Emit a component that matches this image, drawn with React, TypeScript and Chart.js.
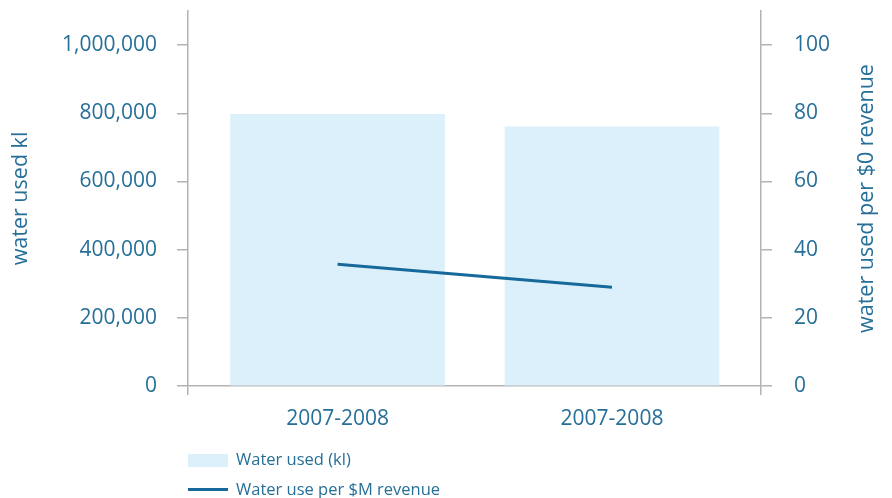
import React, { useEffect, useRef } from 'react';
import { Chart, registerables } from 'chart.js';

Chart.register(...registerables);

// ---- data ----
const categories: string[] = ['2007-2008', '2007-2008'];
const waterUsedKl: number[] = [797000, 760000];
const waterPerRevenue: number[] = [35.7, 29.0];
const seriesNames: string[] = ['Water used (kl)', 'Water use per $M revenue'];
const leftTitle = 'water used kl';
const rightTitle = 'water used per $0 revenue';
const leftTickValues: number[] = [0, 200000, 400000, 600000, 800000, 1000000];
const rightTickValues: number[] = [0, 20, 40, 60, 80, 100];
const leftAxisMax = 1100000;
const rightAxisMax = 110;

// ---- style ----
const W = 892;
const H = 498;
const TEXT = '#266f98';
const AXIS = '#b3b3b3';
const BAR = '#dbf0fb';
const LINE = '#16699a';
const FONT = '"Open Sans", "Noto Sans", sans-serif';

const fmt = new Intl.NumberFormat('en-US');

const titlePlugin = {
  id: 'axisTitles',
  afterDraw(chart: any) {
    const { ctx, chartArea } = chart;
    const cy = (chartArea.top + chartArea.bottom) / 2;
    ctx.save();
    ctx.fillStyle = TEXT;
    ctx.font = `21.5px ${FONT}`;
    ctx.textAlign = 'center';
    ctx.textBaseline = 'alphabetic';
    const items: [number, string][] = [
      [27, leftTitle],
      [chart.width - 19, rightTitle],
    ];
    for (const [x, t] of items) {
      ctx.save();
      ctx.translate(x, cy);
      ctx.rotate(-Math.PI / 2);
      ctx.fillText(t, 0, 0);
      ctx.restore();
    }
    ctx.restore();
  },
};

export default function App() {
  const ref = useRef<HTMLCanvasElement | null>(null);

  useEffect(() => {
    if (!ref.current) return;
    const tickFont = { family: FONT, size: 21 };
    const chart = new Chart(ref.current, {
      type: 'bar',
      data: {
        datasets: [
          {
            type: 'line',
            label: seriesNames[1],
            data: waterPerRevenue.map((v, i) => ({ x: i, y: v })),
            yAxisID: 'y1',
            borderColor: LINE,
            backgroundColor: LINE,
            borderWidth: 3,
            pointRadius: 0,
            tension: 0,
            order: 0,
          } as any,
          {
            type: 'bar',
            label: seriesNames[0],
            data: waterUsedKl.map((v, i) => ({ x: i, y: v })),
            yAxisID: 'y',
            backgroundColor: BAR,
            borderWidth: 0,
            barThickness: 214,
            order: 1,
          } as any,
        ],
      },
      options: {
        responsive: false,
        animation: false,
        devicePixelRatio: 1,
        layout: { padding: { top: 11, left: 0, right: 0, bottom: 0 } },
        plugins: { legend: { display: false }, tooltip: { enabled: false } },
        scales: {
          x: {
            type: 'linear',
            offset: false,
            min: -0.545,
            max: 1.543,
            afterBuildTicks: (s: any) => {
              s.ticks = [
                { value: s.min },
                ...categories.map((_, i) => ({ value: i })),
                { value: s.max },
              ];
            },
            ticks: {
              autoSkip: false,
              maxRotation: 0,
              padding: 11,
              color: TEXT,
              font: tickFont,
              callback: (v: any) =>
                Number.isInteger(v) && categories[v] !== undefined ? categories[v] : '',
            },
            grid: {
              offset: false,
              drawOnChartArea: false,
              tickLength: 9,
              lineWidth: 1.5,
              color: (c: any) =>
                c.tick && Number.isInteger(c.tick.value) ? 'rgba(0,0,0,0)' : AXIS,
            },
            border: { color: AXIS, width: 1.5 },
            afterFit: (s: any) => {
              s.height = H - 386;
              s.paddingLeft = 0;
              s.paddingRight = 0;
            },
          } as any,
          y: {
            type: 'linear',
            position: 'left',
            min: 0,
            max: leftAxisMax,
            afterBuildTicks: (s: any) => {
              s.ticks = leftTickValues.map((value) => ({ value }));
            },
            ticks: {
              padding: 20,
              color: TEXT,
              font: tickFont,
              callback: (v: any) => fmt.format(v),
            },
            grid: { drawOnChartArea: false, tickLength: 11, lineWidth: 1.5, color: AXIS },
            border: { color: AXIS, width: 1.5 },
            afterFit: (s: any) => {
              s.width = 188;
              s.paddingTop = 0;
              s.paddingBottom = 0;
            },
          } as any,
          y1: {
            type: 'linear',
            position: 'right',
            min: 0,
            max: rightAxisMax,
            afterBuildTicks: (s: any) => {
              s.ticks = rightTickValues.map((value) => ({ value }));
            },
            ticks: {
              padding: 22,
              color: TEXT,
              font: tickFont,
            },
            grid: { drawOnChartArea: false, tickLength: 11, lineWidth: 1.5, color: AXIS },
            border: { color: AXIS, width: 1.5 },
            afterFit: (s: any) => {
              s.width = W - 761;
              s.paddingTop = 0;
              s.paddingBottom = 0;
            },
          } as any,
        },
      },
      plugins: [titlePlugin],
    });
    return () => chart.destroy();
  }, []);

  const legendText: React.CSSProperties = {
    position: 'absolute',
    left: 236,
    fontFamily: FONT,
    fontSize: 16.5,
    color: TEXT,
    lineHeight: '20px',
    whiteSpace: 'nowrap',
  };

  return (
    <div style={{ position: 'fixed', left: 0, top: 0, width: W, height: H, background: '#fff' }}>
      <canvas ref={ref} width={W} height={H} style={{ display: 'block', width: W, height: H }} />
      <div style={{ position: 'absolute', left: 188, top: 454, width: 40, height: 13, background: BAR }} />
      <div style={{ ...legendText, top: 449 }}>{seriesNames[0]}</div>
      <div style={{ position: 'absolute', left: 188, top: 488, width: 40, height: 3, background: LINE }} />
      <div style={{ ...legendText, top: 479 }}>{seriesNames[1]}</div>
    </div>
  );
}
